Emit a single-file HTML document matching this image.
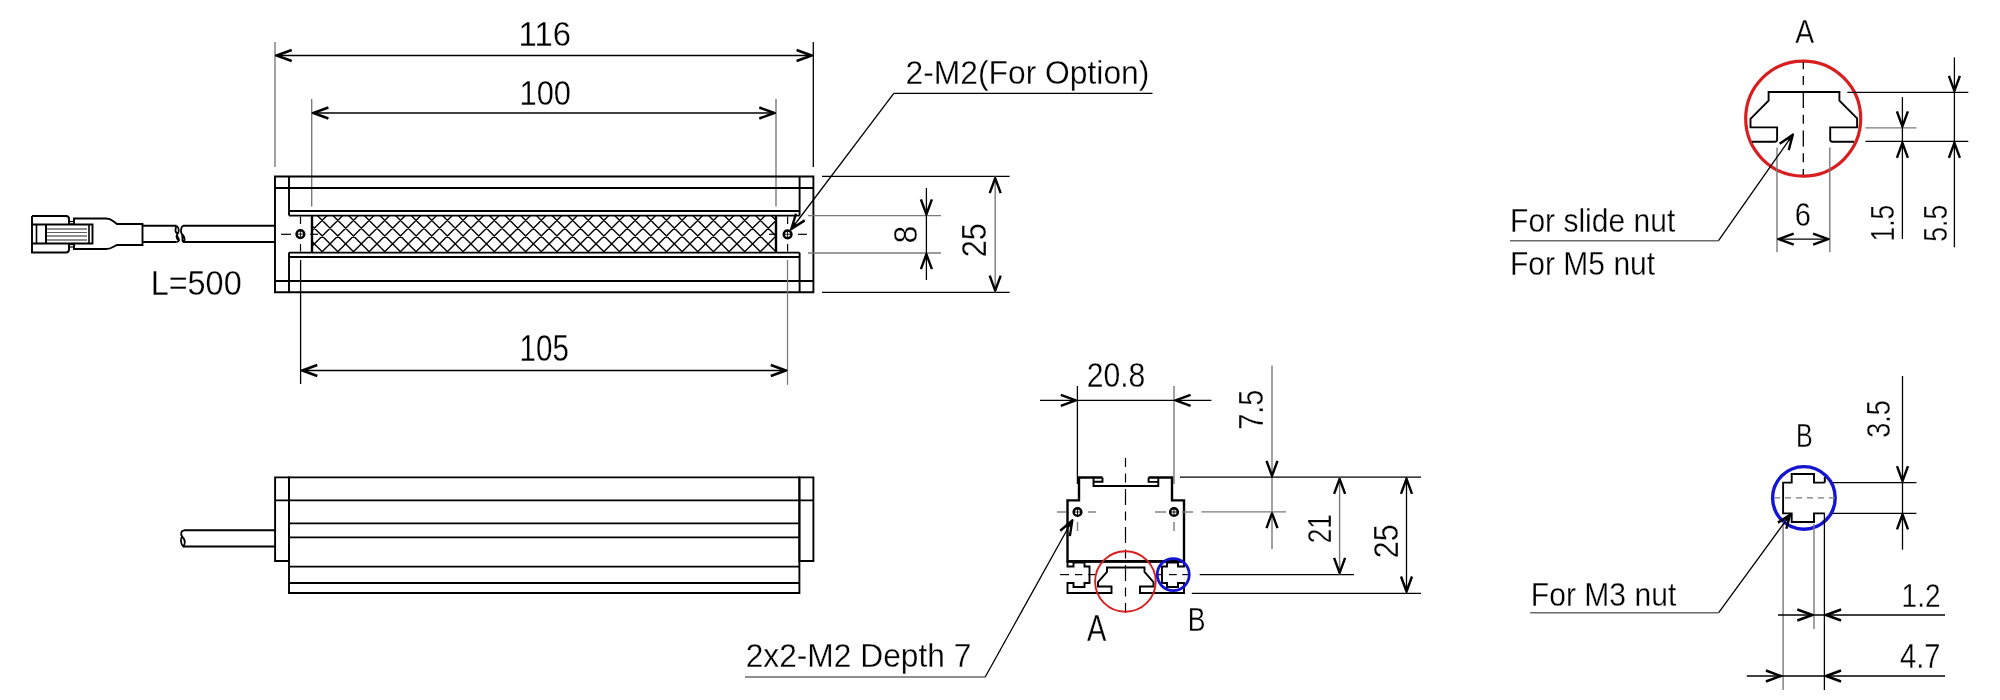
<!DOCTYPE html>
<html><head><meta charset="utf-8"><style>
html,body{margin:0;padding:0;background:#fff;width:2000px;height:700px;overflow:hidden}
svg{display:block;will-change:transform}
text{font-family:"Liberation Sans",sans-serif;fill:#000;stroke:#fff;stroke-width:0.3px}
</style></head><body>
<svg width="2000" height="700" viewBox="0 0 2000 700">
<rect width="2000" height="700" fill="#fff"/>
<line x1="275" y1="42" x2="275" y2="167" stroke="#7a7a7a" stroke-width="1.4" />
<line x1="813.3" y1="42" x2="813.3" y2="167" stroke="#000" stroke-width="1.3" />
<line x1="275" y1="55.5" x2="813.3" y2="55.5" stroke="#000" stroke-width="1.3" />
<path d="M291.70,50.00 L276.70,55.50 L291.70,61.00" stroke="#000" stroke-width="2.4" fill="none" stroke-linejoin="round" stroke-linecap="butt"/>
<path d="M276.70,55.50 L280.70,54.80 L280.70,56.20 Z" fill="#000" stroke="none"/>
<path d="M796.60,61.00 L811.60,55.50 L796.60,50.00" stroke="#000" stroke-width="2.4" fill="none" stroke-linejoin="round" stroke-linecap="butt"/>
<path d="M811.60,55.50 L807.60,56.20 L807.60,54.80 Z" fill="#000" stroke="none"/>
<line x1="311.7" y1="99" x2="311.7" y2="206.5" stroke="#7a7a7a" stroke-width="1.4" />
<line x1="776" y1="99" x2="776" y2="206.5" stroke="#7a7a7a" stroke-width="1.4" />
<line x1="311.7" y1="113" x2="776" y2="113" stroke="#000" stroke-width="1.3" />
<path d="M328.40,107.50 L313.40,113.00 L328.40,118.50" stroke="#000" stroke-width="2.4" fill="none" stroke-linejoin="round" stroke-linecap="butt"/>
<path d="M313.40,113.00 L317.40,112.30 L317.40,113.70 Z" fill="#000" stroke="none"/>
<path d="M759.30,118.50 L774.30,113.00 L759.30,107.50" stroke="#000" stroke-width="2.4" fill="none" stroke-linejoin="round" stroke-linecap="butt"/>
<path d="M774.30,113.00 L770.30,113.70 L770.30,112.30 Z" fill="#000" stroke="none"/>
<line x1="893.8" y1="93.3" x2="1152.5" y2="93.3" stroke="#000" stroke-width="1.3" />
<line x1="893.8" y1="93.3" x2="790.6" y2="230" stroke="#000" stroke-width="1.3" />
<path d="M795.97,213.76 L791.32,229.04 L804.75,220.38" stroke="#000" stroke-width="2.4" fill="none" stroke-linejoin="round" stroke-linecap="butt"/>
<path d="M791.32,229.04 L794.26,222.49 L796.82,224.42 Z" fill="#000" stroke="none"/>
<path d="M275,176.5 H813.4 V292.3 H275 Z" stroke="#000" stroke-width="1.9" fill="none" />
<line x1="275" y1="188" x2="813.4" y2="188" stroke="#000" stroke-width="1.9" />
<line x1="275" y1="281" x2="813.4" y2="281" stroke="#000" stroke-width="1.9" />
<line x1="289" y1="176.5" x2="289" y2="215.6" stroke="#000" stroke-width="1.9" />
<line x1="289" y1="252.6" x2="289" y2="292.3" stroke="#000" stroke-width="1.9" />
<line x1="799.6" y1="176.5" x2="799.6" y2="215.6" stroke="#000" stroke-width="1.9" />
<line x1="799.6" y1="252.6" x2="799.6" y2="292.3" stroke="#000" stroke-width="1.9" />
<line x1="289" y1="211" x2="799.6" y2="211" stroke="#000" stroke-width="1.9" />
<line x1="289" y1="215.6" x2="799.6" y2="215.6" stroke="#000" stroke-width="1.9" />
<line x1="289" y1="252.6" x2="799.6" y2="252.6" stroke="#000" stroke-width="1.9" />
<line x1="289" y1="257" x2="799.6" y2="257" stroke="#000" stroke-width="1.9" />
<defs><clipPath id="hc"><rect x="312" y="215.6" width="464" height="37"/></clipPath></defs>
<path d="M196.10,268.20 L276.10,188.20 M196.10,188.20 L276.10,268.20 M211.75,268.20 L291.75,188.20 M211.75,188.20 L291.75,268.20 M227.40,268.20 L307.40,188.20 M227.40,188.20 L307.40,268.20 M243.05,268.20 L323.05,188.20 M243.05,188.20 L323.05,268.20 M258.70,268.20 L338.70,188.20 M258.70,188.20 L338.70,268.20 M274.35,268.20 L354.35,188.20 M274.35,188.20 L354.35,268.20 M290.00,268.20 L370.00,188.20 M290.00,188.20 L370.00,268.20 M305.65,268.20 L385.65,188.20 M305.65,188.20 L385.65,268.20 M321.30,268.20 L401.30,188.20 M321.30,188.20 L401.30,268.20 M336.95,268.20 L416.95,188.20 M336.95,188.20 L416.95,268.20 M352.60,268.20 L432.60,188.20 M352.60,188.20 L432.60,268.20 M368.25,268.20 L448.25,188.20 M368.25,188.20 L448.25,268.20 M383.90,268.20 L463.90,188.20 M383.90,188.20 L463.90,268.20 M399.55,268.20 L479.55,188.20 M399.55,188.20 L479.55,268.20 M415.20,268.20 L495.20,188.20 M415.20,188.20 L495.20,268.20 M430.85,268.20 L510.85,188.20 M430.85,188.20 L510.85,268.20 M446.50,268.20 L526.50,188.20 M446.50,188.20 L526.50,268.20 M462.15,268.20 L542.15,188.20 M462.15,188.20 L542.15,268.20 M477.80,268.20 L557.80,188.20 M477.80,188.20 L557.80,268.20 M493.45,268.20 L573.45,188.20 M493.45,188.20 L573.45,268.20 M509.10,268.20 L589.10,188.20 M509.10,188.20 L589.10,268.20 M524.75,268.20 L604.75,188.20 M524.75,188.20 L604.75,268.20 M540.40,268.20 L620.40,188.20 M540.40,188.20 L620.40,268.20 M556.05,268.20 L636.05,188.20 M556.05,188.20 L636.05,268.20 M571.70,268.20 L651.70,188.20 M571.70,188.20 L651.70,268.20 M587.35,268.20 L667.35,188.20 M587.35,188.20 L667.35,268.20 M603.00,268.20 L683.00,188.20 M603.00,188.20 L683.00,268.20 M618.65,268.20 L698.65,188.20 M618.65,188.20 L698.65,268.20 M634.30,268.20 L714.30,188.20 M634.30,188.20 L714.30,268.20 M649.95,268.20 L729.95,188.20 M649.95,188.20 L729.95,268.20 M665.60,268.20 L745.60,188.20 M665.60,188.20 L745.60,268.20 M681.25,268.20 L761.25,188.20 M681.25,188.20 L761.25,268.20 M696.90,268.20 L776.90,188.20 M696.90,188.20 L776.90,268.20 M712.55,268.20 L792.55,188.20 M712.55,188.20 L792.55,268.20 M728.20,268.20 L808.20,188.20 M728.20,188.20 L808.20,268.20 M743.85,268.20 L823.85,188.20 M743.85,188.20 L823.85,268.20 M759.50,268.20 L839.50,188.20 M759.50,188.20 L839.50,268.20 M775.15,268.20 L855.15,188.20 M775.15,188.20 L855.15,268.20 M790.80,268.20 L870.80,188.20 M790.80,188.20 L870.80,268.20 M806.45,268.20 L886.45,188.20 M806.45,188.20 L886.45,268.20" stroke="#000" stroke-width="1.4" clip-path="url(#hc)"/>
<line x1="312" y1="215.6" x2="312" y2="252.6" stroke="#000" stroke-width="2.4" />
<line x1="776" y1="215.6" x2="776" y2="252.6" stroke="#000" stroke-width="2.4" />
<circle cx="300.4" cy="234.1" r="3.85" stroke="#000" stroke-width="2.5" fill="none"/>
<line x1="297.34999999999997" y1="234.1" x2="303.45" y2="234.1" stroke="#000" stroke-width="0.9" />
<line x1="300.4" y1="231.05" x2="300.4" y2="237.14999999999998" stroke="#000" stroke-width="0.9" />
<circle cx="787.6" cy="234.3" r="3.85" stroke="#000" stroke-width="2.5" fill="none"/>
<line x1="784.55" y1="234.3" x2="790.6500000000001" y2="234.3" stroke="#000" stroke-width="0.9" />
<line x1="787.6" y1="231.25000000000003" x2="787.6" y2="237.35" stroke="#000" stroke-width="0.9" />
<line x1="281" y1="234.3" x2="291" y2="234.3" stroke="#000" stroke-width="1.2" />
<line x1="310" y1="234.3" x2="318" y2="234.3" stroke="#000" stroke-width="1.2" />
<line x1="769" y1="234.3" x2="777" y2="234.3" stroke="#000" stroke-width="1.2" />
<line x1="798" y1="234.3" x2="807" y2="234.3" stroke="#000" stroke-width="1.2" />
<line x1="300.5" y1="216.5" x2="300.5" y2="224" stroke="#000" stroke-width="1.2" />
<line x1="300.5" y1="244" x2="300.5" y2="251.5" stroke="#000" stroke-width="1.2" />
<line x1="787.6" y1="216.5" x2="787.6" y2="224" stroke="#000" stroke-width="1.2" />
<line x1="787.6" y1="244" x2="787.6" y2="251.5" stroke="#000" stroke-width="1.2" />
<line x1="300.6" y1="260" x2="300.6" y2="384" stroke="#000" stroke-width="1.3" />
<line x1="787.5" y1="260" x2="787.5" y2="384.8" stroke="#7a7a7a" stroke-width="1.3" />
<line x1="300.6" y1="370.5" x2="787.5" y2="370.5" stroke="#000" stroke-width="1.3" />
<path d="M317.30,365.00 L302.30,370.50 L317.30,376.00" stroke="#000" stroke-width="2.4" fill="none" stroke-linejoin="round" stroke-linecap="butt"/>
<path d="M302.30,370.50 L306.30,369.80 L306.30,371.20 Z" fill="#000" stroke="none"/>
<path d="M770.80,376.00 L785.80,370.50 L770.80,365.00" stroke="#000" stroke-width="2.4" fill="none" stroke-linejoin="round" stroke-linecap="butt"/>
<path d="M785.80,370.50 L781.80,371.20 L781.80,369.80 Z" fill="#000" stroke="none"/>
<line x1="822" y1="176.4" x2="1009.6" y2="176.4" stroke="#000" stroke-width="1.3" />
<line x1="808" y1="215.6" x2="941" y2="215.6" stroke="#7a7a7a" stroke-width="1.4" />
<line x1="808" y1="253" x2="941" y2="253" stroke="#7a7a7a" stroke-width="1.4" />
<line x1="822" y1="292.4" x2="1009.6" y2="292.4" stroke="#000" stroke-width="1.3" />
<line x1="926.4" y1="188" x2="926.4" y2="280" stroke="#000" stroke-width="1.3" />
<path d="M920.90,199.40 L926.40,214.40 L931.90,199.40" stroke="#000" stroke-width="2.4" fill="none" stroke-linejoin="round" stroke-linecap="butt"/>
<path d="M926.40,214.40 L925.70,210.40 L927.10,210.40 Z" fill="#000" stroke="none"/>
<path d="M931.90,269.20 L926.40,254.20 L920.90,269.20" stroke="#000" stroke-width="2.4" fill="none" stroke-linejoin="round" stroke-linecap="butt"/>
<path d="M926.40,254.20 L927.10,258.20 L925.70,258.20 Z" fill="#000" stroke="none"/>
<line x1="995.2" y1="176.4" x2="995.2" y2="292.4" stroke="#7a7a7a" stroke-width="1.4" />
<path d="M1000.70,193.20 L995.20,178.20 L989.70,193.20" stroke="#000" stroke-width="2.4" fill="none" stroke-linejoin="round" stroke-linecap="butt"/>
<path d="M995.20,178.20 L995.90,182.20 L994.50,182.20 Z" fill="#000" stroke="none"/>
<path d="M989.70,275.60 L995.20,290.60 L1000.70,275.60" stroke="#000" stroke-width="2.4" fill="none" stroke-linejoin="round" stroke-linecap="butt"/>
<path d="M995.20,290.60 L994.50,286.60 L995.90,286.60 Z" fill="#000" stroke="none"/>
<line x1="142.5" y1="225.8" x2="176.4" y2="225.8" stroke="#000" stroke-width="1.9" />
<line x1="142.5" y1="242" x2="176.4" y2="242" stroke="#000" stroke-width="1.9" />
<line x1="183" y1="225.8" x2="275" y2="225.8" stroke="#000" stroke-width="1.9" />
<line x1="183" y1="242" x2="275" y2="242" stroke="#000" stroke-width="1.9" />
<path d="M176.4,225.8 C179,227 179.5,232 177.5,234 C175.5,236 179.5,238 179,240.5 Q178.5,242 176.4,242 M176.4,225.8 C175,229 175,232 177.5,234 C176,236 176.5,239.5 179,240.5" stroke="#000" stroke-width="1.8" fill="none" />
<path d="M183,225.8 C181,227 180.5,231 181.5,233.5 C183,235 185,237 184.5,240 Q184,242 183,242 M181.5,233.5 C183.5,236 181.5,240 183,242" stroke="#000" stroke-width="1.8" fill="none" />
<path d="M32,216 H66 Q69,216 69,219 V224.5 M32,216 V252.5 H66 Q69,252.5 69,249.5 V243.5" stroke="#000" stroke-width="1.9" fill="none" />
<path d="M32,224.5 H92.5 V243.5 H32" stroke="#000" stroke-width="1.9" fill="none" />
<line x1="36.5" y1="224.5" x2="36.5" y2="243.5" stroke="#000" stroke-width="1.6" />
<line x1="46" y1="224.5" x2="46" y2="243.5" stroke="#000" stroke-width="2.0" />
<line x1="89" y1="224.5" x2="89" y2="243.5" stroke="#000" stroke-width="1.6" />
<line x1="47" y1="229" x2="87" y2="229" stroke="#6a6a6a" stroke-width="1.5" />
<line x1="47" y1="236" x2="87" y2="236" stroke="#6a6a6a" stroke-width="1.5" />
<line x1="47" y1="240" x2="87" y2="240" stroke="#6a6a6a" stroke-width="1.5" />
<line x1="47" y1="232.5" x2="87" y2="232.5" stroke="#333" stroke-width="0.8" />
<path d="M74,224.5 V218.5 H106 Q110,218.5 113,221 L117,224 H142.5 V245 H117 L113,247 Q110,249 106,249 H74 V243.5" stroke="#000" stroke-width="1.9" fill="none" />
<line x1="69" y1="221.5" x2="74" y2="221.5" stroke="#000" stroke-width="1.2" />
<line x1="69" y1="224" x2="74" y2="224" stroke="#000" stroke-width="1.2" />
<line x1="69" y1="244.5" x2="74" y2="244.5" stroke="#000" stroke-width="1.2" />
<line x1="69" y1="247" x2="74" y2="247" stroke="#000" stroke-width="1.2" />
<path d="M275.1,477.4 H289 V561 H275.1 Z" stroke="#000" stroke-width="1.9" fill="none" />
<path d="M799.4,477.4 H813.4 V561 H799.4 Z" stroke="#000" stroke-width="1.9" fill="none" />
<path d="M289,477.4 H799.4 V593 H289 Z" stroke="#000" stroke-width="1.9" fill="none" />
<line x1="275.1" y1="500.4" x2="813.4" y2="500.4" stroke="#000" stroke-width="1.9" />
<line x1="289" y1="523.4" x2="799.4" y2="523.4" stroke="#000" stroke-width="1.9" />
<line x1="289" y1="537.4" x2="799.4" y2="537.4" stroke="#000" stroke-width="1.9" />
<line x1="289" y1="566.6" x2="799.4" y2="566.6" stroke="#000" stroke-width="1.9" />
<line x1="289" y1="583" x2="799.4" y2="583" stroke="#000" stroke-width="1.9" />
<line x1="184" y1="530.3" x2="275.1" y2="530.3" stroke="#000" stroke-width="1.9" />
<line x1="183" y1="546.5" x2="275.1" y2="546.5" stroke="#000" stroke-width="1.9" />
<path d="M184,530.3 C181,530.5 180.5,534 182,536.5 C184,538.5 185.5,541 184.5,544 Q183.5,546.5 183,546.5 M182,536.5 C180,539 181,544 183,546.5" stroke="#000" stroke-width="1.8" fill="none" />
<line x1="1077.4" y1="386" x2="1077.4" y2="484" stroke="#000" stroke-width="1.3" />
<line x1="1174" y1="386" x2="1174" y2="484" stroke="#7a7a7a" stroke-width="1.4" />
<line x1="1040" y1="400.4" x2="1211.4" y2="400.4" stroke="#000" stroke-width="1.3" />
<path d="M1060.80,405.90 L1075.80,400.40 L1060.80,394.90" stroke="#000" stroke-width="2.4" fill="none" stroke-linejoin="round" stroke-linecap="butt"/>
<path d="M1075.80,400.40 L1071.80,401.10 L1071.80,399.70 Z" fill="#000" stroke="none"/>
<path d="M1190.60,394.90 L1175.60,400.40 L1190.60,405.90" stroke="#000" stroke-width="2.4" fill="none" stroke-linejoin="round" stroke-linecap="butt"/>
<path d="M1175.60,400.40 L1179.60,399.70 L1179.60,401.10 Z" fill="#000" stroke="none"/>
<line x1="1272" y1="365.6" x2="1272" y2="549" stroke="#7a7a7a" stroke-width="1.4" />
<path d="M1266.50,460.80 L1272.00,475.80 L1277.50,460.80" stroke="#000" stroke-width="2.4" fill="none" stroke-linejoin="round" stroke-linecap="butt"/>
<path d="M1272.00,475.80 L1271.30,471.80 L1272.70,471.80 Z" fill="#000" stroke="none"/>
<path d="M1277.50,528.10 L1272.00,513.10 L1266.50,528.10" stroke="#000" stroke-width="2.4" fill="none" stroke-linejoin="round" stroke-linecap="butt"/>
<path d="M1272.00,513.10 L1272.70,517.10 L1271.30,517.10 Z" fill="#000" stroke="none"/>
<line x1="1180" y1="477.1" x2="1421" y2="477.1" stroke="#000" stroke-width="1.3" />
<line x1="1201.4" y1="511.9" x2="1286" y2="511.9" stroke="#7a7a7a" stroke-width="1.4" />
<line x1="1199.7" y1="574.6" x2="1354" y2="574.6" stroke="#000" stroke-width="1.3" />
<line x1="1191.8" y1="593.3" x2="1421" y2="593.3" stroke="#000" stroke-width="1.3" />
<line x1="1339.6" y1="477" x2="1339.6" y2="574.6" stroke="#7a7a7a" stroke-width="1.4" />
<path d="M1345.10,493.80 L1339.60,478.80 L1334.10,493.80" stroke="#000" stroke-width="2.4" fill="none" stroke-linejoin="round" stroke-linecap="butt"/>
<path d="M1339.60,478.80 L1340.30,482.80 L1338.90,482.80 Z" fill="#000" stroke="none"/>
<path d="M1334.10,557.80 L1339.60,572.80 L1345.10,557.80" stroke="#000" stroke-width="2.4" fill="none" stroke-linejoin="round" stroke-linecap="butt"/>
<path d="M1339.60,572.80 L1338.90,568.80 L1340.30,568.80 Z" fill="#000" stroke="none"/>
<line x1="1406.5" y1="477" x2="1406.5" y2="593.3" stroke="#000" stroke-width="1.3" />
<path d="M1412.00,493.80 L1406.50,478.80 L1401.00,493.80" stroke="#000" stroke-width="2.4" fill="none" stroke-linejoin="round" stroke-linecap="butt"/>
<path d="M1406.50,478.80 L1407.20,482.80 L1405.80,482.80 Z" fill="#000" stroke="none"/>
<path d="M1401.00,576.50 L1406.50,591.50 L1412.00,576.50" stroke="#000" stroke-width="2.4" fill="none" stroke-linejoin="round" stroke-linecap="butt"/>
<path d="M1406.50,591.50 L1405.80,587.50 L1407.20,587.50 Z" fill="#000" stroke="none"/>
<path d="M1102.5,477.5 H1079 V500.4 H1067.5 V561.3 H1184 V500.4 H1172 V477.5 H1148.6" stroke="#000" stroke-width="2.4" fill="none" />
<line x1="1067.5" y1="561.3" x2="1184" y2="561.3" stroke="#000" stroke-width="2.7" />
<path d="M1093.5,477.5 V486 H1158.3 V477.5" stroke="#000" stroke-width="1.9" fill="none" />
<path d="M1093.5,481.7 H1102.5 V477.5 M1158.3,481.9 H1148.6 V477.5" stroke="#000" stroke-width="1.9" fill="none" />
<path d="M1067.5,561 V566.5 H1073.5 V562.5 H1084.5 V566.5 H1089.5 V583 H1084.5 V587 H1073.5 V583 H1067.5 V593 H1111.5 V586.5 H1098 V582 L1107,572 V567.5 H1144.5 V572 L1153.5,582 V586.5 H1140 V593 H1184 V583 H1178 V587 H1167 V583 H1162 V566.5 H1167 V562.5 H1178 V566.5 H1184 V561" stroke="#000" stroke-width="1.9" fill="none" />
<circle cx="1077.5" cy="512" r="3.85" stroke="#000" stroke-width="2.5" fill="none"/>
<line x1="1074.45" y1="512" x2="1080.55" y2="512" stroke="#000" stroke-width="0.9" />
<line x1="1077.5" y1="508.95" x2="1077.5" y2="515.0500000000001" stroke="#000" stroke-width="0.9" />
<circle cx="1174" cy="512" r="3.85" stroke="#000" stroke-width="2.5" fill="none"/>
<line x1="1170.95" y1="512" x2="1177.05" y2="512" stroke="#000" stroke-width="0.9" />
<line x1="1174" y1="508.95" x2="1174" y2="515.0500000000001" stroke="#000" stroke-width="0.9" />
<line x1="1125.5" y1="457.9" x2="1125.5" y2="612.7" stroke="#000" stroke-width="1.2" stroke-dasharray="16 6.5 9 6.5" stroke-dashoffset="6.9"/>
<line x1="1057" y1="512" x2="1066" y2="512" stroke="#7a7a7a" stroke-width="1.4" />
<line x1="1088" y1="512" x2="1096" y2="512" stroke="#7a7a7a" stroke-width="1.4" />
<line x1="1155" y1="512" x2="1166" y2="512" stroke="#7a7a7a" stroke-width="1.4" />
<line x1="1182" y1="512" x2="1193" y2="512" stroke="#7a7a7a" stroke-width="1.4" />
<line x1="1077.5" y1="522" x2="1077.5" y2="531" stroke="#7a7a7a" stroke-width="1.4" />
<line x1="1174" y1="522" x2="1174" y2="531" stroke="#7a7a7a" stroke-width="1.4" />
<line x1="1060.2" y1="574.6" x2="1069" y2="574.6" stroke="#000" stroke-width="1.2" />
<line x1="1075" y1="574.6" x2="1082.3" y2="574.6" stroke="#000" stroke-width="1.2" />
<line x1="1088.3" y1="574.6" x2="1095.6" y2="574.6" stroke="#000" stroke-width="1.2" />
<line x1="1157.9" y1="574.6" x2="1161.3" y2="574.6" stroke="#000" stroke-width="1.2" />
<line x1="1169" y1="574.6" x2="1176.7" y2="574.6" stroke="#000" stroke-width="1.2" />
<line x1="1182.3" y1="574.6" x2="1187.9" y2="574.6" stroke="#000" stroke-width="1.2" />
<circle cx="1125.4" cy="581.5" r="30.3" stroke="#d81e1e" stroke-width="1.9" fill="none"/>
<circle cx="1173.25" cy="574.6" r="16.0" stroke="#1414d2" stroke-width="2.8" fill="none"/>
<line x1="745" y1="677" x2="985.2" y2="677" stroke="#6a6a6a" stroke-width="1.5" />
<line x1="985.2" y1="677" x2="1072.9" y2="519.3" stroke="#000" stroke-width="1.3" />
<path d="M1069.83,536.13 L1072.32,520.35 L1060.22,530.78" stroke="#000" stroke-width="2.4" fill="none" stroke-linejoin="round" stroke-linecap="butt"/>
<path d="M1072.32,520.35 L1070.31,527.24 L1067.52,525.69 Z" fill="#000" stroke="none"/>
<circle cx="1803.2" cy="118.6" r="57.5" stroke="#d81e1e" stroke-width="3.2" fill="none"/>
<line x1="1803.3" y1="62.1" x2="1803.3" y2="175" stroke="#000" stroke-width="1.3" stroke-dasharray="16 6.8 9 6.8" stroke-dashoffset="8.8"/>
<path d="M1752,141.7 H1775 Q1777.1,141.7 1777.1,139.5 V127.4 H1750.5 V118.8 L1768.6,100.6 V92 H1839.4 V100.6 L1857.1,118.3 V127.4 H1830.2 V139.5 Q1830.2,141.7 1832.4,141.7 H1854" stroke="#000" stroke-width="1.9" fill="none" />
<line x1="1777" y1="147.6" x2="1777" y2="252.2" stroke="#7a7a7a" stroke-width="1.4" />
<line x1="1829.8" y1="147.6" x2="1829.8" y2="252.2" stroke="#7a7a7a" stroke-width="1.4" />
<line x1="1777" y1="239.1" x2="1829.8" y2="239.1" stroke="#000" stroke-width="1.3" />
<path d="M1793.70,233.60 L1778.70,239.10 L1793.70,244.60" stroke="#000" stroke-width="2.4" fill="none" stroke-linejoin="round" stroke-linecap="butt"/>
<path d="M1778.70,239.10 L1782.70,238.40 L1782.70,239.80 Z" fill="#000" stroke="none"/>
<path d="M1813.10,244.60 L1828.10,239.10 L1813.10,233.60" stroke="#000" stroke-width="2.4" fill="none" stroke-linejoin="round" stroke-linecap="butt"/>
<path d="M1828.10,239.10 L1824.10,239.80 L1824.10,238.40 Z" fill="#000" stroke="none"/>
<line x1="1847.3" y1="92.3" x2="1968.3" y2="92.3" stroke="#000" stroke-width="1.3" />
<line x1="1865.4" y1="127.9" x2="1916.4" y2="127.9" stroke="#7a7a7a" stroke-width="1.4" />
<line x1="1865.4" y1="141.4" x2="1968.3" y2="141.4" stroke="#000" stroke-width="1.3" />
<line x1="1902.4" y1="97.1" x2="1902.4" y2="239.1" stroke="#000" stroke-width="1.3" />
<path d="M1896.90,111.40 L1902.40,126.40 L1907.90,111.40" stroke="#000" stroke-width="2.4" fill="none" stroke-linejoin="round" stroke-linecap="butt"/>
<path d="M1902.40,126.40 L1901.70,122.40 L1903.10,122.40 Z" fill="#000" stroke="none"/>
<path d="M1907.90,157.90 L1902.40,142.90 L1896.90,157.90" stroke="#000" stroke-width="2.4" fill="none" stroke-linejoin="round" stroke-linecap="butt"/>
<path d="M1902.40,142.90 L1903.10,146.90 L1901.70,146.90 Z" fill="#000" stroke="none"/>
<line x1="1954.4" y1="57.4" x2="1954.4" y2="247.3" stroke="#000" stroke-width="1.3" />
<path d="M1948.90,75.90 L1954.40,90.90 L1959.90,75.90" stroke="#000" stroke-width="2.4" fill="none" stroke-linejoin="round" stroke-linecap="butt"/>
<path d="M1954.40,90.90 L1953.70,86.90 L1955.10,86.90 Z" fill="#000" stroke="none"/>
<path d="M1959.90,157.90 L1954.40,142.90 L1948.90,157.90" stroke="#000" stroke-width="2.4" fill="none" stroke-linejoin="round" stroke-linecap="butt"/>
<path d="M1954.40,142.90 L1955.10,146.90 L1953.70,146.90 Z" fill="#000" stroke="none"/>
<line x1="1510" y1="240.7" x2="1718.5" y2="240.7" stroke="#6a6a6a" stroke-width="1.5" />
<line x1="1718.5" y1="240.7" x2="1793.5" y2="133.7" stroke="#000" stroke-width="1.3" />
<path d="M1788.71,150.12 L1792.81,134.68 L1779.70,143.81" stroke="#000" stroke-width="2.4" fill="none" stroke-linejoin="round" stroke-linecap="butt"/>
<path d="M1792.81,134.68 L1790.10,141.33 L1787.48,139.50 Z" fill="#000" stroke="none"/>
<circle cx="1803.9" cy="497.9" r="31.3" stroke="#1414d2" stroke-width="3.4" fill="none"/>
<path d="M1824.8,482.6 H1814 V474 H1791.7 V482.6 H1783.1 V513.4 H1791.7 V522 H1814 V513.4 H1824.8" stroke="#000" stroke-width="1.9" fill="none" />
<line x1="1824.8" y1="477" x2="1824.8" y2="482.6" stroke="#000" stroke-width="2.0" />
<line x1="1774" y1="497.9" x2="1835" y2="497.9" stroke="#7a7a7a" stroke-width="1.4" stroke-dasharray="6 5"/>
<line x1="1832.9" y1="482.6" x2="1916.4" y2="482.6" stroke="#000" stroke-width="1.3" />
<line x1="1832.9" y1="513.4" x2="1916.4" y2="513.4" stroke="#000" stroke-width="1.3" />
<line x1="1902.5" y1="376" x2="1902.5" y2="549.7" stroke="#000" stroke-width="1.3" />
<path d="M1897.00,466.10 L1902.50,481.10 L1908.00,466.10" stroke="#000" stroke-width="2.4" fill="none" stroke-linejoin="round" stroke-linecap="butt"/>
<path d="M1902.50,481.10 L1901.80,477.10 L1903.20,477.10 Z" fill="#000" stroke="none"/>
<path d="M1908.00,529.40 L1902.50,514.40 L1897.00,529.40" stroke="#000" stroke-width="2.4" fill="none" stroke-linejoin="round" stroke-linecap="butt"/>
<path d="M1902.50,514.40 L1903.20,518.40 L1901.80,518.40 Z" fill="#000" stroke="none"/>
<line x1="1783.1" y1="522" x2="1783.1" y2="690" stroke="#7a7a7a" stroke-width="1.4" />
<line x1="1814" y1="524" x2="1814" y2="629" stroke="#7a7a7a" stroke-width="1.4" />
<line x1="1824.4" y1="513" x2="1824.4" y2="690" stroke="#000" stroke-width="1.3" />
<line x1="1778" y1="615" x2="1945" y2="615" stroke="#000" stroke-width="1.3" />
<path d="M1797.30,620.50 L1812.30,615.00 L1797.30,609.50" stroke="#000" stroke-width="2.4" fill="none" stroke-linejoin="round" stroke-linecap="butt"/>
<path d="M1812.30,615.00 L1808.30,615.70 L1808.30,614.30 Z" fill="#000" stroke="none"/>
<path d="M1841.10,609.50 L1826.10,615.00 L1841.10,620.50" stroke="#000" stroke-width="2.4" fill="none" stroke-linejoin="round" stroke-linecap="butt"/>
<path d="M1826.10,615.00 L1830.10,614.30 L1830.10,615.70 Z" fill="#000" stroke="none"/>
<line x1="1746.8" y1="676" x2="1945" y2="676" stroke="#000" stroke-width="1.3" />
<path d="M1765.90,681.50 L1780.90,676.00 L1765.90,670.50" stroke="#000" stroke-width="2.4" fill="none" stroke-linejoin="round" stroke-linecap="butt"/>
<path d="M1780.90,676.00 L1776.90,676.70 L1776.90,675.30 Z" fill="#000" stroke="none"/>
<path d="M1841.10,670.50 L1826.10,676.00 L1841.10,681.50" stroke="#000" stroke-width="2.4" fill="none" stroke-linejoin="round" stroke-linecap="butt"/>
<path d="M1826.10,676.00 L1830.10,675.30 L1830.10,676.70 Z" fill="#000" stroke="none"/>
<line x1="1530.2" y1="612.7" x2="1718.7" y2="612.7" stroke="#6a6a6a" stroke-width="1.5" />
<line x1="1718.7" y1="612.7" x2="1790.8" y2="513.8" stroke="#000" stroke-width="1.3" />
<path d="M1786.34,528.74 L1790.09,514.77 L1777.94,522.62" stroke="#000" stroke-width="2.4" fill="none" stroke-linejoin="round" stroke-linecap="butt"/>
<path d="M1790.09,514.77 L1787.26,521.37 L1784.68,519.48 Z" fill="#000" stroke="none"/>
<g transform="translate(544.78,34.05) rotate(0)"><text x="0" y="12.25" font-size="34.51" text-anchor="middle" textLength="52.37" lengthAdjust="spacingAndGlyphs">116</text></g>
<g transform="translate(545.25,92.50) rotate(0)"><text x="0" y="12.34" font-size="34.76" text-anchor="middle" textLength="51.49" lengthAdjust="spacingAndGlyphs">100</text></g>
<g transform="translate(544.25,348.27) rotate(0)"><text x="0" y="12.85" font-size="36.19" text-anchor="middle" textLength="49.27" lengthAdjust="spacingAndGlyphs">105</text></g>
<g transform="translate(1027.42,71.85) rotate(0)"><text x="0" y="11.82" font-size="33.30" text-anchor="middle" textLength="243.86" lengthAdjust="spacingAndGlyphs">2-M2(For Option)</text></g>
<g transform="translate(196.15,282.40) rotate(0)"><text x="0" y="12.65" font-size="35.64" text-anchor="middle" textLength="91.00" lengthAdjust="spacingAndGlyphs">L=500</text></g>
<g transform="translate(1116.00,374.10) rotate(0)"><text x="0" y="12.71" font-size="35.81" text-anchor="middle" textLength="58.64" lengthAdjust="spacingAndGlyphs">20.8</text></g>
<g transform="translate(858.50,654.52) rotate(0)"><text x="0" y="11.98" font-size="33.75" text-anchor="middle" textLength="225.72" lengthAdjust="spacingAndGlyphs">2x2-M2 Depth 7</text></g>
<g transform="translate(1592.62,220.05) rotate(0)"><text x="0" y="11.99" font-size="33.77" text-anchor="middle" textLength="165.18" lengthAdjust="spacingAndGlyphs">For slide nut</text></g>
<g transform="translate(1582.55,263.88) rotate(0)"><text x="0" y="11.47" font-size="32.32" text-anchor="middle" textLength="145.21" lengthAdjust="spacingAndGlyphs">For M5 nut</text></g>
<g transform="translate(1603.55,593.53) rotate(0)"><text x="0" y="12.11" font-size="34.12" text-anchor="middle" textLength="145.42" lengthAdjust="spacingAndGlyphs">For M3 nut</text></g>
<g transform="translate(1096.68,628.27) rotate(0)"><text x="0" y="12.84" font-size="36.18" text-anchor="middle" textLength="19.41" lengthAdjust="spacingAndGlyphs">A</text></g>
<g transform="translate(1196.60,619.17) rotate(0)"><text x="0" y="12.11" font-size="34.10" text-anchor="middle" textLength="17.77" lengthAdjust="spacingAndGlyphs">B</text></g>
<g transform="translate(1804.59,31.30) rotate(0)"><text x="0" y="11.72" font-size="33.02" text-anchor="middle" textLength="18.92" lengthAdjust="spacingAndGlyphs">A</text></g>
<g transform="translate(1804.33,435.80) rotate(0)"><text x="0" y="11.65" font-size="32.80" text-anchor="middle" textLength="16.72" lengthAdjust="spacingAndGlyphs">B</text></g>
<g transform="translate(1802.92,214.00) rotate(0)"><text x="0" y="11.95" font-size="33.67" text-anchor="middle" textLength="16.15" lengthAdjust="spacingAndGlyphs">6</text></g>
<g transform="translate(1921.00,595.33) rotate(0)"><text x="0" y="12.08" font-size="34.03" text-anchor="middle" textLength="38.81" lengthAdjust="spacingAndGlyphs">1.2</text></g>
<g transform="translate(1920.18,656.10) rotate(0)"><text x="0" y="12.28" font-size="34.60" text-anchor="middle" textLength="40.49" lengthAdjust="spacingAndGlyphs">4.7</text></g>
<g transform="translate(905.35,234.65) rotate(-90)"><text x="0" y="12.10" font-size="34.07" text-anchor="middle" textLength="17.80" lengthAdjust="spacingAndGlyphs">8</text></g>
<g transform="translate(974.05,240.20) rotate(-90)"><text x="0" y="12.14" font-size="34.19" text-anchor="middle" textLength="34.17" lengthAdjust="spacingAndGlyphs">25</text></g>
<g transform="translate(1250.82,409.77) rotate(-90)"><text x="0" y="12.62" font-size="35.56" text-anchor="middle" textLength="40.21" lengthAdjust="spacingAndGlyphs">7.5</text></g>
<g transform="translate(1319.27,528.78) rotate(-90)"><text x="0" y="12.03" font-size="33.88" text-anchor="middle" textLength="28.95" lengthAdjust="spacingAndGlyphs">21</text></g>
<g transform="translate(1384.80,541.35) rotate(-90)"><text x="0" y="12.74" font-size="35.88" text-anchor="middle" textLength="33.85" lengthAdjust="spacingAndGlyphs">25</text></g>
<g transform="translate(1882.80,223.20) rotate(-90)"><text x="0" y="11.67" font-size="32.86" text-anchor="middle" textLength="36.71" lengthAdjust="spacingAndGlyphs">1.5</text></g>
<g transform="translate(1934.82,223.32) rotate(-90)"><text x="0" y="11.85" font-size="33.39" text-anchor="middle" textLength="37.07" lengthAdjust="spacingAndGlyphs">5.5</text></g>
<g transform="translate(1877.88,419.07) rotate(-90)"><text x="0" y="11.92" font-size="33.57" text-anchor="middle" textLength="37.62" lengthAdjust="spacingAndGlyphs">3.5</text></g>
</svg>
</body></html>
